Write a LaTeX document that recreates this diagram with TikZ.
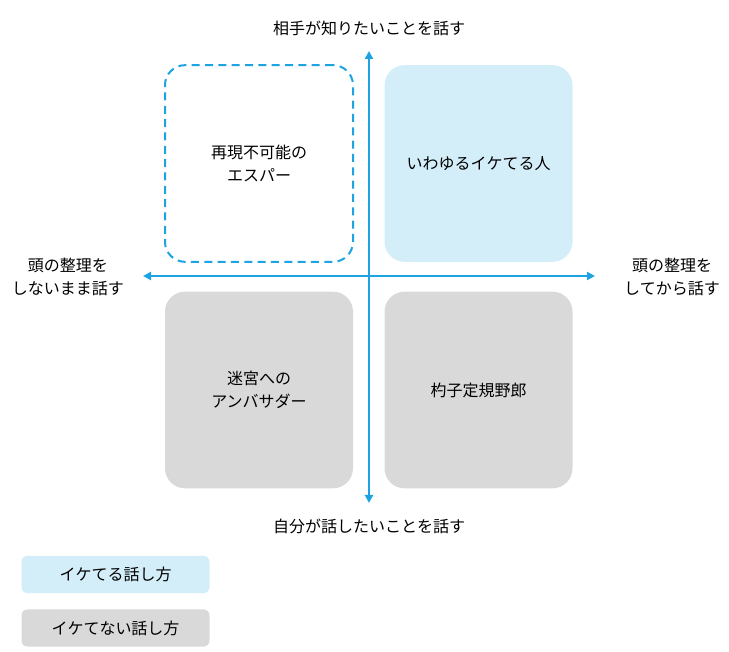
\documentclass[tikz,border=0pt]{standalone}
\usepackage{fontspec}
\setmainfont{Noto Sans CJK JP}
\usetikzlibrary{arrows.meta,positioning}
\definecolor{axisblue}{RGB}{29,163,226}
\definecolor{goodfill}{RGB}{211,238,249}
\definecolor{badfill}{RGB}{217,217,217}

\begin{document}
\begin{tikzpicture}[x=0.75pt,y=-0.75pt,
  every node/.style={font=\fontsize{12}{17}\selectfont, align=center},
  quad/.style={rounded corners=15pt, minimum width=141pt, minimum height=147.5pt},
  key/.style={rounded corners=4.5pt, minimum width=141pt, minimum height=28pt},
  axis/.style={axisblue, line width=1.5pt, {Triangle[length=6pt,width=6pt]}-{Triangle[length=6pt,width=6pt]}}]
\useasboundingbox (0,0) rectangle (729,652);
% quadrants
\node[quad, draw=axisblue, line width=1.5pt, dash pattern=on 6pt off 4pt] (esper) at (259,163.5) {再現不可能の\\エスパー};
\node[quad, fill=goodfill] (smart) at (478.5,163.5) {いわゆるイケてる人};
\node[quad, fill=badfill] (maze) at (259,390) {迷宮への\\アンバサダー};
\node[quad, fill=badfill] (rigid) at (478.5,390) {杓子定規野郎};
% axes
\coordinate (up) at (369,51);
\coordinate (down) at (369,503);
\coordinate (west) at (143,276);
\coordinate (east) at (595,276);
\draw[axis] (down) -- (up);
\draw[axis] (west) -- (east);
\node (wanted) at (369,28) {相手が知りたいことを話す};
\node (self) at (369,526) {自分が話したいことを話す};
\node (messy) at (68,277) {頭の整理を\\しないまま話す};
\node (tidy) at (672,277) {頭の整理を\\してから話す};
% legend
\node[key, fill=goodfill] (good) at (115.5,574.5) {イケてる話し方};
\node[key, fill=badfill] (bad) at (115.5,628) {イケてない話し方};
\end{tikzpicture}
\end{document}
